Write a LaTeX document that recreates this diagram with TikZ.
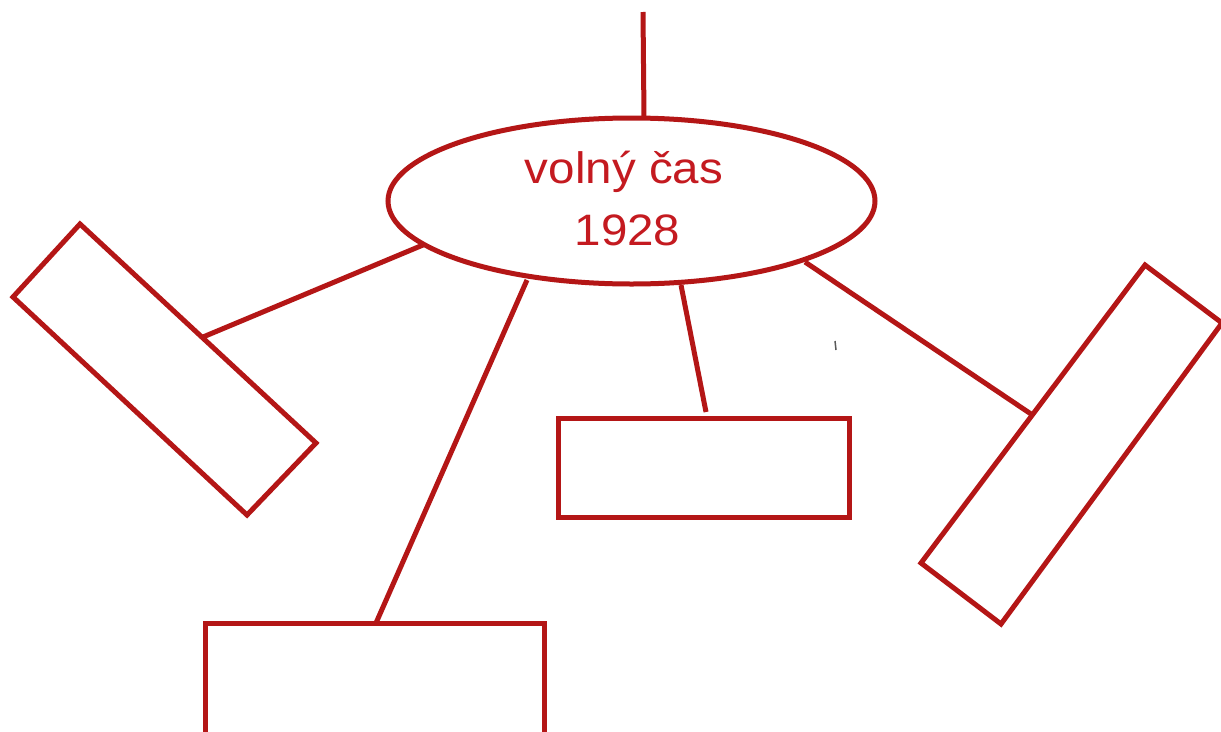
\documentclass[tikz,border=0pt]{standalone}
\usepackage{fontspec}
\setmainfont{Liberation Sans}
\usetikzlibrary{shapes.geometric}
\definecolor{lred}{RGB}{180,22,22}
\definecolor{tred}{RGB}{196,26,32}
\tikzset{
  edge/.style={draw=lred, line width=5pt},
  boxshape/.style={draw=lred, line width=5pt, line join=miter},
  uprbox/.style={draw=lred, line width=5pt, inner sep=0pt, outer sep=0pt, anchor=north west},
  lbl/.style={text=tred, font=\fontsize{44}{52}\selectfont, anchor=base, inner sep=0pt, xscale=1.08}
}
\begin{document}
\begin{tikzpicture}[x=1pt,y=-1pt]
\useasboundingbox (0,0) rectangle (1221,731);
\clip (0,0) rectangle (1221,731);
\fill[white] (0,0) rectangle (1221,731);
% central ellipse
\node[ellipse, draw=lred, line width=5pt, minimum width=487pt, minimum height=166pt, inner sep=0pt, outer sep=0pt] (ell) at (631.5,201) {};
\node[lbl] (t1) at (624,183) {volný čas};
\node[lbl] (t2) at (627.5,245) {1928};
% top line
\coordinate (top) at (643,12);
\coordinate (ellTop) at (644,117);
\draw[edge] (top) -- (ellTop);
% left rotated box
\coordinate (L1) at (80,224);
\coordinate (L2) at (13,297);
\coordinate (L3) at (247,515);
\coordinate (L4) at (316,443);
\draw[boxshape] (L1) -- (L2) -- (L3) -- (L4) -- cycle;
\coordinate (Lc) at (203,337);
\coordinate (eL) at (423,245);
\draw[edge] (eL) -- (Lc);
% bottom box
\node[uprbox, minimum width=339pt, minimum height=160pt] (B) at (205,623) {};
\coordinate (Bc) at (376,623);
\coordinate (eB) at (527,280);
\draw[edge] (eB) -- (Bc);
% middle box
\node[uprbox, minimum width=291pt, minimum height=99pt] (M) at (558,418) {};
\coordinate (Mc) at (706,412);
\coordinate (eM) at (681,285);
\draw[edge] (eM) -- (Mc);
% right rotated box
\coordinate (R1) at (1145,265);
\coordinate (R2) at (1222,323);
\coordinate (R3) at (1001,624);
\coordinate (R4) at (921,563);
\draw[boxshape] (R1) -- (R2) -- (R3) -- (R4) -- cycle;
\coordinate (Rc) at (1031,414);
\coordinate (eR) at (805,262);
\draw[edge] (eR) -- (Rc);
% small gray tick
\coordinate (g1) at (835,341);
\coordinate (g2) at (836,350);
\draw[gray!70!black, line width=1.5pt] (g1) -- (g2);
\end{tikzpicture}
\end{document}
